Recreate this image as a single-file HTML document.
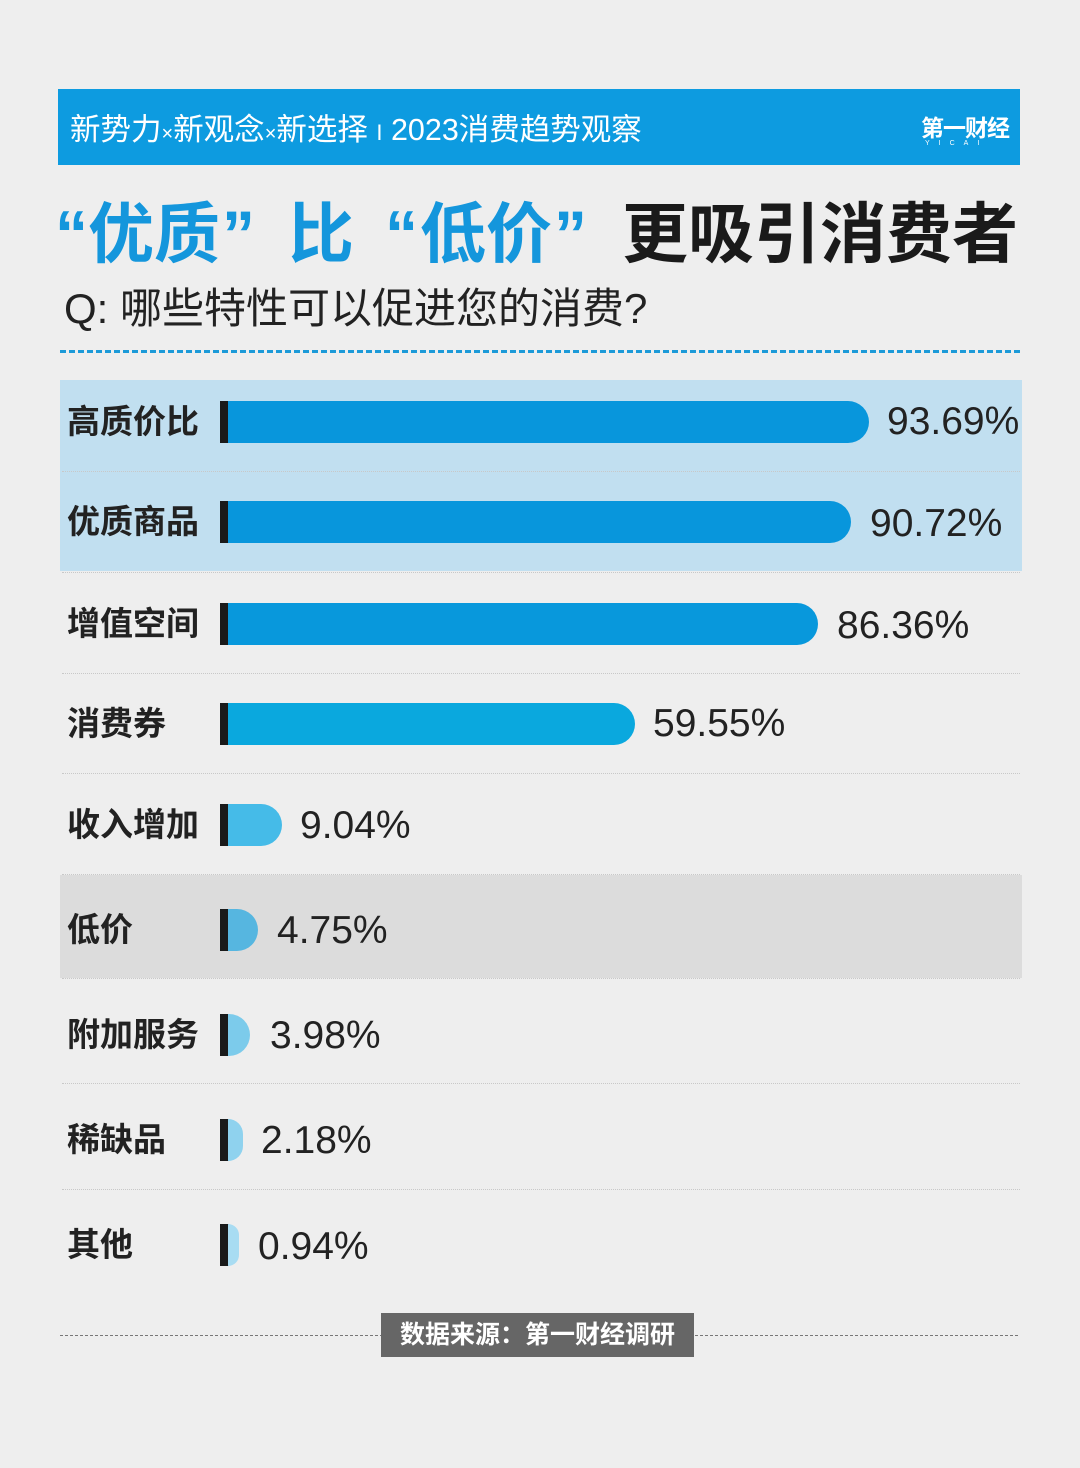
<!DOCTYPE html>
<html><head><meta charset="utf-8"><style>
body{margin:0;background:#eeeeee;}
#c{position:relative;width:1080px;height:1468px;overflow:hidden;background:#eeeeee;font-family:"Liberation Sans","Noto Sans CJK SC",sans-serif;}
.a{position:absolute;}
.lab{position:absolute;left:67px;font-size:33px;font-weight:bold;color:#222;line-height:42px;}
.stem{position:absolute;left:220px;width:9px;height:42px;background:#1a1a1a;}
.bar{position:absolute;left:228px;height:42px;border-radius:0 21px 21px 0;}
.val{position:absolute;font-size:39px;color:#222;line-height:42px;}
.sep{position:absolute;left:62px;width:958px;border-top:1px dotted #c8c8c8;}
.t{position:absolute;top:194px;font-size:66px;font-weight:bold;line-height:80px;white-space:nowrap;}
</style></head><body><div id="c">
<div class="a" style="left:58px;top:89px;width:962px;height:76px;background:#0d9be0;"></div>
<div class="a" style="left:70px;top:110px;font-size:30.5px;color:#fff;line-height:40px;white-space:nowrap;">新势力<span style="font-size:20px">×</span>新观念<span style="font-size:20px">×</span>新选择 <span style="font-size:22px">I</span> 2023消费趋势观察</div>
<div class="a" style="left:921px;top:113px;font-size:23px;font-weight:bold;color:#fff;line-height:30px;letter-spacing:-1px;">第一财经</div>
<div class="a" style="left:925px;top:140px;font-size:7px;color:#fff;letter-spacing:9px;">YICAI</div>
<div class="t" style="left:55px;color:#1496dc">“</div>
<div class="t" style="left:88px;color:#1496dc">优质</div>
<div class="t" style="left:222px;color:#1496dc">”</div>
<div class="t" style="left:288px;color:#1496dc">比</div>
<div class="t" style="left:385px;color:#1496dc">“</div>
<div class="t" style="left:420px;color:#1496dc">低价</div>
<div class="t" style="left:554px;color:#1496dc">”</div>
<div class="t" style="left:622px;color:#1a1a1a">更吸引消费者</div>
<div class="a" style="left:64px;top:284px;font-size:42px;color:#222;line-height:50px;white-space:nowrap;">Q: 哪些特性可以促进您的消费?</div>
<div class="a" style="left:60px;top:350px;width:960px;border-top:3px dashed #1c9ad8;"></div>
<div class="a" style="left:60px;top:380px;width:962px;height:191px;background:#c1dff0;"></div>
<div class="a" style="left:60px;top:875px;width:962px;height:103px;background:#dcdcdc;"></div>
<div class="sep" style="top:471px"></div><div class="sep" style="top:572px"></div><div class="sep" style="top:673px"></div><div class="sep" style="top:773px"></div><div class="sep" style="top:874px"></div><div class="sep" style="top:978px"></div><div class="sep" style="top:1083px"></div><div class="sep" style="top:1189px"></div>

<div class="lab" style="top:401px">高质价比</div><div class="stem" style="top:401px"></div><div class="bar" style="top:401px;width:641px;background:#0896dc"></div><div class="val" style="top:401px;left:887px">93.69%</div>
<div class="lab" style="top:501px">优质商品</div><div class="stem" style="top:501px"></div><div class="bar" style="top:501px;width:623px;background:#0896dc"></div><div class="val" style="top:503px;left:870px">90.72%</div>
<div class="lab" style="top:603px">增值空间</div><div class="stem" style="top:603px"></div><div class="bar" style="top:603px;width:590px;background:#0898dc"></div><div class="val" style="top:605px;left:837px">86.36%</div>
<div class="lab" style="top:703px">消费券</div><div class="stem" style="top:703px"></div><div class="bar" style="top:703px;width:407px;background:#0aa8de"></div><div class="val" style="top:703px;left:653px">59.55%</div>
<div class="lab" style="top:804px">收入增加</div><div class="stem" style="top:804px"></div><div class="bar" style="top:804px;width:54px;background:#45bbe8"></div><div class="val" style="top:805px;left:300px">9.04%</div>
<div class="lab" style="top:909px">低价</div><div class="stem" style="top:909px"></div><div class="bar" style="top:909px;width:30px;background:#56b6e0"></div><div class="val" style="top:910px;left:277px">4.75%</div>
<div class="lab" style="top:1014px">附加服务</div><div class="stem" style="top:1014px"></div><div class="bar" style="top:1014px;width:22px;background:#7ccbeb"></div><div class="val" style="top:1015px;left:270px">3.98%</div>
<div class="lab" style="top:1119px">稀缺品</div><div class="stem" style="top:1119px"></div><div class="bar" style="top:1119px;width:15px;background:#8fd2ee"></div><div class="val" style="top:1120px;left:261px">2.18%</div>
<div class="lab" style="top:1224px">其他</div><div class="stem" style="top:1224px"></div><div class="bar" style="top:1224px;width:11px;background:#a8dcf2"></div><div class="val" style="top:1226px;left:258px">0.94%</div>

<div class="a" style="left:60px;top:1335px;width:958px;border-top:1px dashed #777;"></div>
<div class="a" style="left:381px;top:1313px;width:313px;height:44px;background:#666;color:#fff;font-size:25px;font-weight:bold;line-height:44px;text-align:center;white-space:nowrap;">数据来源：第一财经调研</div>
</div></body></html>
